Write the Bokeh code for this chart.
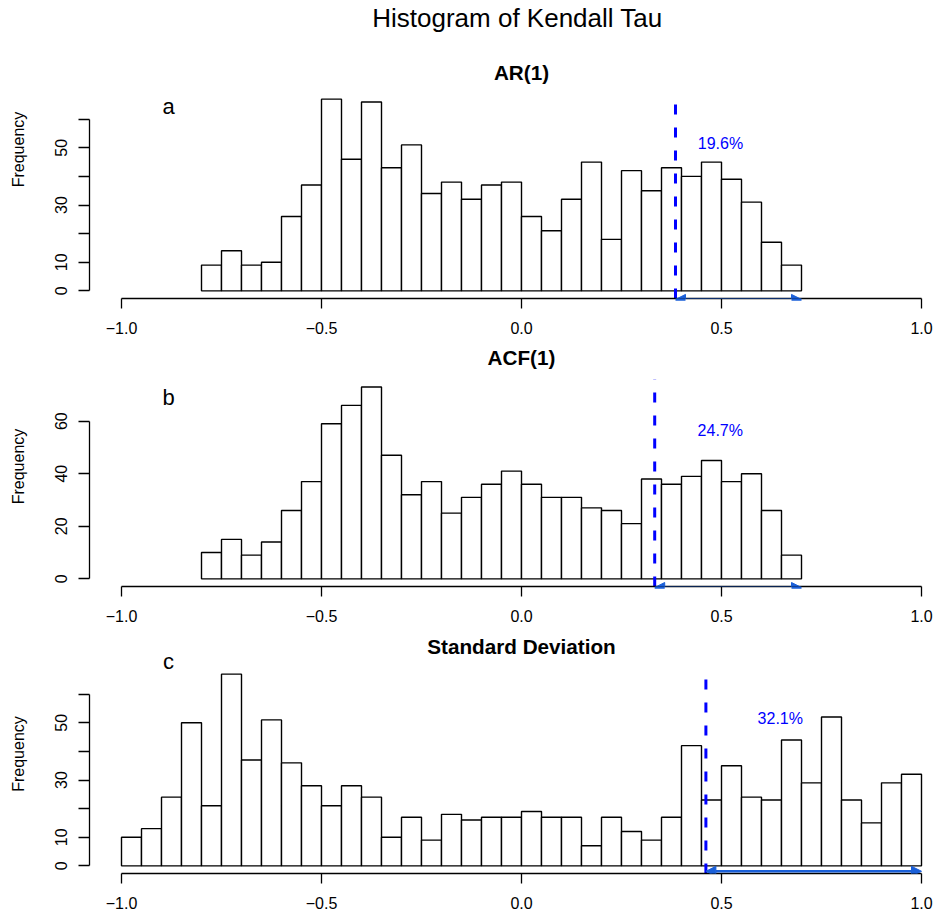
from bokeh.plotting import figure
from bokeh.layouts import column
from bokeh.models import (Range1d, FixedTicker, Arrow, NormalHead, Label,
                          ColumnDataSource)
from bokeh.embed import file_html
from bokeh.resources import INLINE

FONT = "Liberation Sans"

# ---------------- data ----------------
main_title = "Histogram of Kendall Tau"
panel_titles = ["AR(1)", "ACF(1)", "Standard Deviation"]
panel_letters = ["a", "b", "c"]

bin_width = 0.05
ar1_start = -0.8
ar1_counts = [9, 14, 9, 10, 26, 37, 67, 46, 66, 43, 51, 34, 38, 32, 37,
              38, 26, 21, 32, 45, 18, 42, 35, 43, 40, 45, 39, 31, 17, 9]
acf1_start = -0.8
acf1_counts = [10, 15, 9, 14, 26, 37, 59, 66, 73, 47, 32, 37, 25, 31, 36,
               41, 36, 31, 31, 27, 26, 21, 38, 36, 39, 45, 37, 40, 26, 9]
sd_start = -1.0
sd_counts = [10, 13, 24, 50, 21, 67, 37, 51, 36, 28, 21, 28, 24, 10, 17, 9,
             18, 16, 17, 17, 19, 17, 17, 7, 17, 12, 9, 17, 42, 23, 35, 24,
             23, 44, 29, 52, 23, 15, 29, 32]

thresholds = [0.385, 0.333, 0.461]
arrow_ends = [0.7, 0.7, 1.0]
pct_labels = ["19.6%", "24.7%", "32.1%"]

x_ticks = [-1.0, -0.5, 0.0, 0.5, 1.0]
x_tick_labels = ["\u22121.0", "\u22120.5", "0.0", "0.5", "1.0"]
y_ticks_a = [0, 10, 20, 30, 40, 50, 60]
y_tick_labels_a = ["0", "10", "", "30", "", "50", ""]
y_ticks_b = [0, 20, 40, 60]
y_tick_labels_b = ["0", "20", "40", "60"]

# ---------------- layout / style ----------------
# ylim: R-style plot region limits; ppu: pixels per unit; frame_px: canvas top to x-axis
panels = [
    dict(start=ar1_start, counts=ar1_counts, ylim=(-2.68, 69.68), ppu=2.861, frame_px=298,
         yt=y_ticks_a, ytl=y_tick_labels_a, h=346,
         title_y=226, letter_y=192, pct_x=0.4975, pct_y=155, arrow_y=-3.0, main=True),
    dict(start=acf1_start, counts=acf1_counts, ylim=(-2.92, 75.92), ppu=2.628, frame_px=240,
         yt=y_ticks_b, ytl=y_tick_labels_b, h=288,
         title_y=229, letter_y=189, pct_x=0.497, pct_y=156.5, arrow_y=-3.3, main=False),
    dict(start=sd_start, counts=sd_counts, ylim=(-2.68, 69.68), ppu=2.861, frame_px=239,
         yt=y_ticks_a, ytl=y_tick_labels_a, h=284,
         title_y=227, letter_y=212, pct_x=0.647, pct_y=155, arrow_y=-1.9, main=False),
]

BLUE = "#0000ff"
ARROW = "#1a5fd8"
figs = []
for i, cfg in enumerate(panels):
    ylo = cfg["ylim"][0]
    yhi = ylo + cfg["frame_px"] / cfg["ppu"]
    p = figure(width=934, height=cfg["h"], x_range=Range1d(-1.08, 1.0325),
               y_range=Range1d(ylo, yhi), output_backend="svg", toolbar_location=None,
               min_border_left=89, min_border_right=0, min_border_top=0,
               min_border_bottom=cfg["h"] - cfg["frame_px"])
    p.outline_line_color = None
    p.grid.visible = False
    p.background_fill_color = "white"
    p.border_fill_color = "white"

    xa = p.xaxis[0]
    xa.ticker = FixedTicker(ticks=x_ticks)
    xa.major_label_overrides = dict(zip(x_ticks, x_tick_labels))
    xa.bounds = (-1, 1)
    xa.axis_line_width = 1.3
    xa.major_tick_line_width = 1.3
    xa.major_tick_in = 0
    xa.major_tick_out = 10
    xa.minor_tick_line_color = None
    xa.major_label_standoff = 13
    xa.major_label_text_font = FONT
    xa.major_label_text_font_size = "16px"
    xa.major_label_text_color = "black"
    xa.axis_line_color = "black"

    ya = p.yaxis[0]
    ya.ticker = FixedTicker(ticks=cfg["yt"])
    ya.major_label_overrides = dict(zip(cfg["yt"], cfg["ytl"]))
    ya.bounds = (0, 60)
    ya.axis_line_width = 1.3
    ya.major_tick_line_width = 1.3
    ya.major_tick_in = 0
    ya.major_tick_out = 11
    ya.minor_tick_line_color = None
    ya.major_label_orientation = "vertical"
    ya.major_label_standoff = 11
    ya.major_label_text_font = FONT
    ya.major_label_text_font_size = "16px"
    ya.major_label_text_color = "black"
    ya.axis_label = "Frequency"
    ya.axis_label_text_font = FONT
    ya.axis_label_text_font_size = "16px"
    ya.axis_label_text_font_style = "normal"
    ya.axis_label_text_color = "black"
    ya.axis_label_standoff = 26

    counts = cfg["counts"]
    left = [cfg["start"] + k * bin_width for k in range(len(counts))]
    right = [l + bin_width for l in left]
    src = ColumnDataSource(dict(left=left, right=right, top=counts, bottom=[0] * len(counts)))
    p.quad(left="left", right="right", top="top", bottom="bottom", source=src,
           fill_color="white", line_color="black", line_width=1.4)

    # vertical dashed threshold line spanning the R plot region
    p.segment(x0=[thresholds[i]], y0=[cfg["ylim"][0]], x1=[thresholds[i]], y1=[cfg["ylim"][1]],
              line_color=BLUE, line_width=3, line_dash="10 13")
    p.add_layout(Arrow(x_start=thresholds[i], y_start=cfg["arrow_y"], x_end=arrow_ends[i],
                       y_end=cfg["arrow_y"], line_color=ARROW, line_width=2.6,
                       start=NormalHead(size=10, fill_color=ARROW, line_color=ARROW, line_width=1),
                       end=NormalHead(size=10, fill_color=ARROW, line_color=ARROW, line_width=1)))

    p.add_layout(Label(x=cfg["pct_x"], y=cfg["pct_y"], y_units="screen", text=pct_labels[i],
                       text_align="center", text_baseline="alphabetic", text_color=BLUE,
                       text_font=FONT, text_font_size="16px"))
    p.add_layout(Label(x=0.0, y=cfg["title_y"], y_units="screen", text=panel_titles[i],
                       text_align="center", text_baseline="alphabetic", text_color="black",
                       text_font=FONT, text_font_size="20.7px", text_font_style="bold"))
    p.add_layout(Label(x=-0.8825, y=cfg["letter_y"], y_units="screen", text=panel_letters[i],
                       text_align="center", text_baseline="alphabetic", text_color="black",
                       text_font=FONT, text_font_size="22px"))
    if cfg["main"]:
        p.add_layout(Label(x=-0.01, y=281, y_units="screen", text=main_title,
                           text_align="center", text_baseline="alphabetic", text_color="black",
                           text_font=FONT, text_font_size="26px"))
    figs.append(p)

layout = column(*figs)
open("out.html", "w").write(file_html(layout, INLINE))
